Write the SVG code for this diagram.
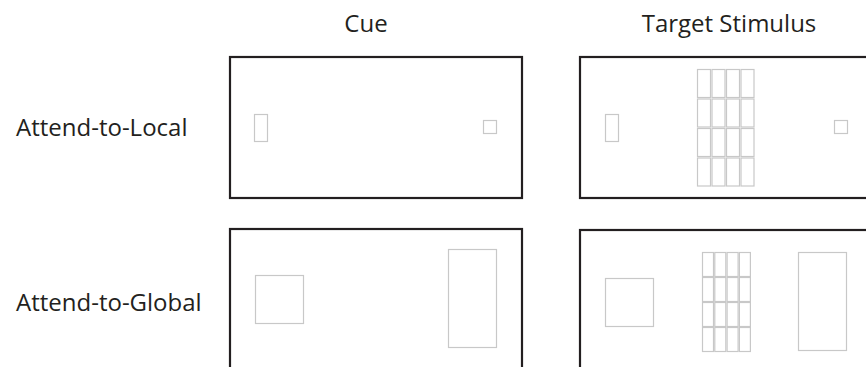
<svg xmlns="http://www.w3.org/2000/svg" width="866" height="367" viewBox="0 0 866 367">
<style>
.lbl{font-family:"Open Sans","Liberation Sans",sans-serif;font-size:24px;fill:#231f20}
.frame{fill:#fff;stroke:#231f20;stroke-width:2.2}
.item{fill:none;stroke:#c8c8c8;stroke-width:1.2}
</style>
<defs>
<g id="gridTop">
<rect class="item" x="0" y="0" width="13" height="28"/><rect class="item" x="14.5" y="0" width="13" height="28"/><rect class="item" x="29" y="0" width="13" height="28"/><rect class="item" x="43.5" y="0" width="13" height="28"/>
</g>
<g id="gridBot">
<rect class="item" x="0" y="0" width="11" height="24"/><rect class="item" x="12.3" y="0" width="11" height="24"/><rect class="item" x="24.6" y="0" width="11" height="24"/><rect class="item" x="36.9" y="0" width="11" height="24"/>
</g>
</defs>
<rect width="866" height="367" fill="#fff"/>
<g id="headers">
<text class="lbl" x="366" y="32" text-anchor="middle">Cue</text>
<text class="lbl" x="729" y="32" text-anchor="middle">Target Stimulus</text>
</g>
<g id="rowlabels">
<text class="lbl" x="16" y="136">Attend-to-Local</text>
<text class="lbl" x="16" y="311">Attend-to-Global</text>
</g>
<g id="cue-local">
<rect class="frame" x="230" y="57" width="292" height="141"/>
<rect class="item" x="254.5" y="114.5" width="13" height="27"/>
<rect class="item" x="483.5" y="120.5" width="13" height="13"/>
</g>
<g id="target-local">
<rect class="frame" x="580" y="57" width="292" height="141"/>
<rect class="item" x="605.5" y="114.5" width="13" height="27"/>
<rect class="item" x="834.5" y="120.5" width="13" height="13"/>
<use href="#gridTop" x="697.5" y="69.5"/>
<use href="#gridTop" x="697.5" y="99"/>
<use href="#gridTop" x="697.5" y="128.5"/>
<use href="#gridTop" x="697.5" y="158"/>
</g>
<g id="cue-global">
<rect class="frame" x="230" y="229" width="292" height="150"/>
<rect class="item" x="255.5" y="275.5" width="48" height="48"/>
<rect class="item" x="448.5" y="249.5" width="48" height="98"/>
</g>
<g id="target-global">
<rect class="frame" x="580" y="230" width="292" height="150"/>
<rect class="item" x="605.5" y="278.5" width="48" height="48"/>
<rect class="item" x="798.5" y="252.5" width="48" height="98"/>
<use href="#gridBot" x="702.5" y="252.5"/>
<use href="#gridBot" x="702.5" y="277.5"/>
<use href="#gridBot" x="702.5" y="302.5"/>
<use href="#gridBot" x="702.5" y="327.5"/>
</g>
</svg>
